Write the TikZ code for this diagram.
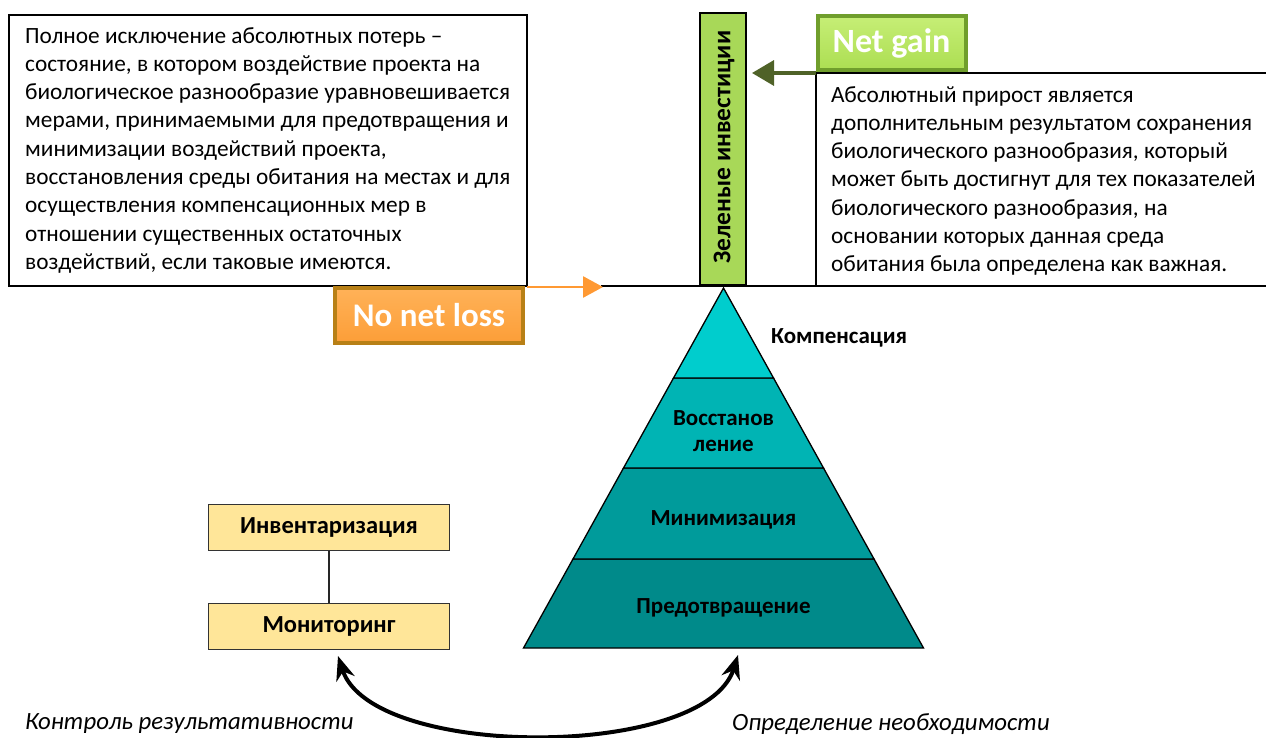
\documentclass[tikz,border=0pt]{standalone}
\usepackage{fontspec}
\setmainfont{Carlito}
\usetikzlibrary{arrows.meta}
\definecolor{barGreen}{RGB}{168,216,88}
\definecolor{ngLight}{RGB}{198,238,118}
\definecolor{ngMid}{RGB}{172,222,82}
\definecolor{ngDark}{RGB}{112,158,44}
\definecolor{nlLight}{RGB}{255,178,88}
\definecolor{nlMid}{RGB}{252,158,56}
\definecolor{nlDark}{RGB}{184,128,22}
\definecolor{arrOrange}{RGB}{255,153,51}
\definecolor{arrGreen}{RGB}{79,98,40}
\definecolor{pyr1}{RGB}{0,205,205}
\definecolor{pyr2}{RGB}{0,180,180}
\definecolor{pyr3}{RGB}{0,155,155}
\definecolor{pyr4}{RGB}{0,138,138}
\definecolor{invFill}{RGB}{255,230,153}
\begin{document}
\begin{tikzpicture}[x=1pt,y=-1pt,
  bodytext/.style={anchor=north west, align=left, inner sep=0pt, font=\fontsize{23.3}{28.3}\selectfont},
  frame/.style={draw=black, line width=1.8pt, anchor=north west, inner sep=0pt, outer sep=0pt},
  ngbox/.style={draw=ngDark, line width=4pt, top color=ngLight, bottom color=ngMid, text=white,
    font=\bfseries\fontsize{34}{34}\selectfont, minimum width=148pt, minimum height=54pt, inner sep=0pt},
  nlbox/.style={draw=nlDark, line width=4pt, top color=nlLight, bottom color=nlMid, text=white,
    font=\bfseries\fontsize{33}{33}\selectfont, minimum width=188pt, minimum height=55pt, inner sep=0pt},
  layer/.style={draw=black, line width=1.3pt},
  pyrlabel/.style={font=\bfseries\fontsize{23}{26}\selectfont, align=center, inner sep=0pt},
  invbox/.style={draw=black!80, line width=1.4pt, fill=invFill, minimum width=241pt, minimum height=46pt,
    font=\bfseries\fontsize{24.5}{24.5}\selectfont, inner sep=0pt},
  itext/.style={font=\itshape\fontsize{24.8}{24.8}\selectfont, inner sep=0pt}
]
\useasboundingbox (0,0) rectangle (1266,738);

% left text box
\node[frame, minimum width=518pt, minimum height=271pt] (lbox) at (9,15) {};
\node[bodytext] (ltext) at (25,27) {Полное исключение абсолютных потерь –\\
состояние, в котором воздействие проекта на\\
биологическое разнообразие уравновешивается\\
мерами, принимаемыми для предотвращения и\\
минимизации воздействий проекта,\\
восстановления среды обитания на местах и для\\
осуществления компенсационных мер в\\
отношении существенных остаточных\\
воздействий, если таковые имеются.};

% baseline
\coordinate (bl start) at (601,286);
\coordinate (bl end) at (1266,286);
\draw[line width=2.6pt] (bl start) -- (bl end);

% right text box (open on the right)
\coordinate (rb tl) at (816,73);
\coordinate (rb tr) at (1266,73);
\coordinate (rb bl) at (816,286);
\draw[line width=1.8pt] (rb tr) -- (rb tl) -- (rb bl);
\node[bodytext] (rtext) at (831,86) {Абсолютный прирост является\\
дополнительным результатом сохранения\\
биологического разнообразия, который\\
может быть достигнут для тех показателей\\
биологического разнообразия, на\\
основании которых данная среда\\
обитания была определена как важная.};

% green bar
\node[frame, fill=barGreen, line width=1.6pt, minimum width=46pt, minimum height=272pt] (bar) at (700,13) {};
\node[rotate=90, font=\bfseries\fontsize{25.5}{25.5}\selectfont, inner sep=0pt] (bartext) at (724,147) {Зеленые инвестиции};

% net gain
\node[ngbox] (ng) at (891.5,43) {Net gain};
\coordinate (ng arrow end) at (752,73);
\draw[arrGreen, line width=3.5pt, -{Triangle[length=22pt,width=25pt]}] (rb tl) -- (ng arrow end);

% no net loss
\node[nlbox] (nl) at (429,315) {No net loss};
\coordinate (nl arrow end) at (603,287);
\draw[arrOrange, line width=2.8pt, -{Triangle[length=20pt,width=21pt]}] (lbox.east |- nl arrow end) -- (nl arrow end);

% pyramid
\coordinate (apex) at (723.5,288);
\coordinate (a1) at (673.5,378); \coordinate (b1) at (773.5,378);
\coordinate (a2) at (623.5,468); \coordinate (b2) at (823.5,468);
\coordinate (a3) at (573,559);   \coordinate (b3) at (874,559);
\coordinate (a4) at (523.5,648); \coordinate (b4) at (923.5,648);
\filldraw[layer, fill=pyr4] (a3) -- (b3) -- (b4) -- (a4) -- cycle;
\filldraw[layer, fill=pyr3] (a2) -- (b2) -- (b3) -- (a3) -- cycle;
\filldraw[layer, fill=pyr2] (a1) -- (b1) -- (b2) -- (a2) -- cycle;
\filldraw[layer, fill=pyr1] (apex) -- (b1) -- (a1) -- cycle;
\node[pyrlabel, anchor=west] (komp) at (771,338) {Компенсация};
\node[pyrlabel] (vosst) at (723.5,431) {Восстанов\\ление};
\node[pyrlabel] (minim) at (723.5,520) {Минимизация};
\node[pyrlabel] (predot) at (723.5,608) {Предотвращение};

% inventory / monitoring
\node[invbox] (inv) at (329,527.5) {Инвентаризация};
\node[invbox] (mon) at (329,626.5) {Мониторинг};
\draw[line width=1.4pt, black!85] (inv) -- (mon);

% bottom curved double arrow
\coordinate (mon tip) at (338,656);
\coordinate (pyr tip) at (738,655);
\draw[line width=4pt, {Stealth[length=24pt,width=19pt]}-{Stealth[length=24pt,width=19pt]}]
  (mon tip) .. controls (372,760) and (705,760) .. (pyr tip);

% bottom captions
\node[itext, anchor=west] (kontrol) at (25,724) {Контроль результативности};
\node[itext, anchor=west] (opred) at (732,724) {Определение необходимости};
\end{tikzpicture}
\end{document}
